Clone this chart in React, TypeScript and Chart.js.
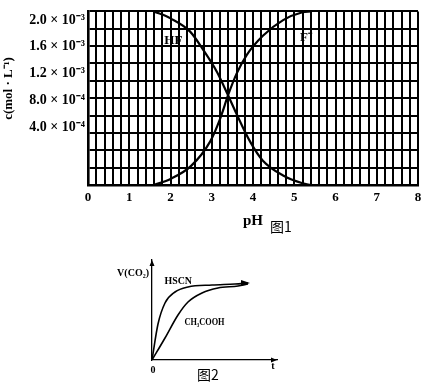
import React, { useEffect, useRef } from 'react';
import { Chart, registerables } from 'chart.js';

Chart.register(...registerables);

// ---------- Figure 1 data ----------
const phMin = 0;
const phMax = 8;
const concMin = 0;
const concMax = 2.0e-3;
const concTickValues = [4.0e-4, 8.0e-4, 1.2e-3, 1.6e-3, 2.0e-3];
const concTickLabels = ['4.0 × 10⁻⁴', '8.0 × 10⁻⁴', '1.2 × 10⁻³', '1.6 × 10⁻³', '2.0 × 10⁻³'];
const hfPH = [1.6, 2.0, 2.47, 2.79, 3.13, 3.37, 3.6, 3.93, 4.24, 4.73, 5.2, 5.4];
const hfConc = [2.0e-3, 1.92e-3, 1.77e-3, 1.56e-3, 1.3e-3, 1.06e-3, 0.82e-3, 0.5e-3, 0.28e-3, 0.11e-3, 0.02e-3, 0];
const fPH = [1.6, 2.0, 2.5, 2.96, 3.2, 3.4, 3.6, 3.85, 4.24, 4.73, 5.2, 5.4];
const fConc = [0, 0.07e-3, 0.22e-3, 0.5e-3, 0.76e-3, 1.04e-3, 1.28e-3, 1.5e-3, 1.72e-3, 1.9e-3, 1.99e-3, 2.0e-3];

// ---------- Figure 2 data ----------
const hscnT = [0, 0.48, 1.04, 1.84, 2.88, 4.8, 6.64, 7.68];
const hscnV = [0, 3.6, 5.7, 6.8, 7.3, 7.5, 7.6, 7.7];
const acT = [0, 1.04, 2.08, 2.88, 4.0, 5.28, 6.88, 7.68];
const acV = [0, 2.2, 4.5, 5.8, 6.7, 7.2, 7.4, 7.6];

const SERIF = '"Liberation Serif", "Times New Roman", serif';
const CJK = '"Noto Sans CJK SC", "Noto Sans", sans-serif';

const fig1Labels = {
  id: 'fig1Labels',
  afterDraw(chart: any) {
    const { ctx, scales } = chart;
    const x = scales.x;
    const y = scales.y;
    ctx.save();
    ctx.fillStyle = '#000';
    ctx.font = `bold 13px ${SERIF}`;
    ctx.textBaseline = 'middle';
    ctx.textAlign = 'left';
    ctx.fillText('HF', x.getPixelForValue(1.85), y.getPixelForValue(1.66e-3));
    ctx.fillText('F⁻', x.getPixelForValue(5.14), y.getPixelForValue(1.7e-3));
    ctx.font = `14px ${CJK}`;
    ctx.textAlign = 'center';
    ctx.fillText('图1', 281, 227);
    ctx.restore();
  },
};

const fig2Decor = {
  id: 'fig2Decor',
  afterDraw(chart: any) {
    const { ctx, scales, chartArea } = chart;
    const x = scales.x;
    const y = scales.y;
    const ox = chartArea.left;
    const oy = chartArea.bottom;
    ctx.save();
    ctx.fillStyle = '#000';
    ctx.strokeStyle = '#000';
    // arrow heads on axes
    ctx.beginPath();
    ctx.moveTo(chartArea.right, oy);
    ctx.lineTo(chartArea.right - 6, oy - 2.5);
    ctx.lineTo(chartArea.right - 6, oy + 2.5);
    ctx.closePath();
    ctx.fill();
    ctx.beginPath();
    ctx.moveTo(ox, chartArea.top);
    ctx.lineTo(ox - 2.5, chartArea.top + 6);
    ctx.lineTo(ox + 2.5, chartArea.top + 6);
    ctx.closePath();
    ctx.fill();
    // arrow at end of curves
    const ex = x.getPixelForValue(hscnT[hscnT.length - 1]);
    const ey = y.getPixelForValue(hscnV[hscnV.length - 1]);
    ctx.beginPath();
    ctx.moveTo(ex + 2, ey);
    ctx.lineTo(ex - 7, ey - 3);
    ctx.lineTo(ex - 7, ey + 3);
    ctx.closePath();
    ctx.fill();
    // labels
    ctx.textBaseline = 'middle';
    ctx.font = `bold 10px ${SERIF}`;
    ctx.textAlign = 'right';
    ctx.fillText('V(CO₂)', ox - 3, y.getPixelForValue(8.7));
    ctx.textAlign = 'center';
    const drawCondensed = (txt: string, px: number, py: number, sx: number) => {
      ctx.save();
      ctx.translate(px, py);
      ctx.scale(sx, 1);
      ctx.fillText(txt, 0, 0);
      ctx.restore();
    };
    ctx.font = `bold 11px ${SERIF}`;
    drawCondensed('HSCN', x.getPixelForValue(2.1), y.getPixelForValue(7.9), 0.9);
    drawCondensed('CH₃COOH', x.getPixelForValue(4.2), y.getPixelForValue(3.8), 0.75);
    ctx.font = `bold 10px ${SERIF}`;
    ctx.fillText('0', ox + 1, oy + 10);
    ctx.fillText('t', chartArea.right - 4, oy + 6);
    ctx.font = `14px ${CJK}`;
    ctx.fillText('图2', 208, 375 - 240);
    ctx.restore();
  },
};

export default function App() {
  const ref1 = useRef<HTMLCanvasElement>(null);
  const ref2 = useRef<HTMLCanvasElement>(null);

  useEffect(() => {
    const c1 = new Chart(ref1.current as HTMLCanvasElement, {
      type: 'line',
      data: {
        datasets: [
          {
            label: 'HF',
            data: hfPH.map((p, i) => ({ x: p, y: hfConc[i] })),
            borderColor: '#000',
            borderWidth: 2.2,
            pointRadius: 0,
            fill: false,
            cubicInterpolationMode: 'monotone',
          },
          {
            label: 'F⁻',
            data: fPH.map((p, i) => ({ x: p, y: fConc[i] })),
            borderColor: '#000',
            borderWidth: 2.2,
            pointRadius: 0,
            fill: false,
            cubicInterpolationMode: 'monotone',
          },
        ],
      },
      options: {
        animation: false,
        responsive: false,
        events: [],
        layout: { padding: { top: 5, right: 4, left: 0, bottom: 0 } },
        plugins: { legend: { display: false }, tooltip: { enabled: false } },
        scales: {
          x: {
            type: 'linear',
            min: phMin,
            max: phMax,
            position: 'bottom',
            ticks: {
              stepSize: 0.2,
              autoSkip: false,
              maxRotation: 0,
              padding: 5,
              color: '#000',
              font: { family: SERIF, weight: 'bold', size: 13 },
              callback: (v: any) => {
                const n = Number(v);
                return Math.abs(n - Math.round(n)) < 1e-6 ? String(Math.round(n)) : '';
              },
            },
            grid: { color: '#000', lineWidth: 2, drawTicks: false },
            border: { display: true, color: '#000', width: 2.6 },
            title: {
              display: true,
              text: 'pH',
              color: '#000',
              font: { family: SERIF, weight: 'bold', size: 15 },
              padding: { top: 0, bottom: 10 },
            },
            afterFit: (s: any) => {
              s.height = 55;
              s.paddingRight = 0;
              s.paddingLeft = 0;
            },
          },
          y: {
            type: 'linear',
            min: concMin,
            max: concMax,
            position: 'left',
            weight: 0,
            ticks: { stepSize: 2e-4, display: false },
            grid: { color: '#000', lineWidth: 2, drawTicks: false },
            border: { display: true, color: '#000', width: 2.6 },
            afterFit: (s: any) => {
              s.width = 0;
            },
          },
          yLab: {
            type: 'linear',
            position: 'left',
            weight: 10,
            min: -4.649e-4,
            max: 2.1297e-3,
            grid: { display: false, drawTicks: false },
            border: { display: false },
            afterBuildTicks: (s: any) => {
              s.ticks = concTickValues.map((v) => ({ value: v }));
            },
            ticks: {
              padding: 3,
              color: '#000',
              font: { family: SERIF, weight: 'bold', size: 14 },
              callback: (v: any) => {
                const idx = concTickValues.findIndex((t) => Math.abs(t - Number(v)) < 1e-9);
                return idx >= 0 ? concTickLabels[idx] : '';
              },
            },
            title: {
              display: true,
              text: '      c(mol · L⁻¹)',
              color: '#000',
              font: { family: SERIF, weight: 'bold', size: 13 },
              padding: { top: 1, bottom: 0 },
            },
            afterFit: (s: any) => {
              s.width = 88;
            },
          },
        },
      },
      plugins: [fig1Labels],
    } as any);

    const c2 = new Chart(ref2.current as HTMLCanvasElement, {
      type: 'line',
      data: {
        datasets: [
          {
            label: 'HSCN',
            data: hscnT.map((t, i) => ({ x: t, y: hscnV[i] })),
            borderColor: '#000',
            borderWidth: 1.6,
            pointRadius: 0,
            fill: false,
            cubicInterpolationMode: 'monotone',
          },
          {
            label: 'CH₃COOH',
            data: acT.map((t, i) => ({ x: t, y: acV[i] })),
            borderColor: '#000',
            borderWidth: 1.6,
            pointRadius: 0,
            fill: false,
            cubicInterpolationMode: 'monotone',
          },
        ],
      },
      options: {
        animation: false,
        responsive: false,
        events: [],
        layout: { padding: { top: 20, right: 145, left: 152, bottom: 27 } },
        plugins: { legend: { display: false }, tooltip: { enabled: false } },
        scales: {
          x: {
            type: 'linear',
            min: 0,
            max: 10,
            ticks: { display: false },
            grid: { display: false, drawTicks: false },
            border: { display: true, color: '#000', width: 1.3 },
            afterFit: (s: any) => {
              s.height = 0;
            },
          },
          y: {
            type: 'linear',
            min: 0,
            max: 10,
            ticks: { display: false },
            grid: { display: false, drawTicks: false },
            border: { display: true, color: '#000', width: 1.3 },
            afterFit: (s: any) => {
              s.width = 0;
            },
          },
        },
      },
      plugins: [fig2Decor],
    } as any);

    return () => {
      c1.destroy();
      c2.destroy();
    };
  }, []);

  return (
    <div style={{ position: 'absolute', left: 0, top: 0, width: 422, height: 387, background: '#fff' }}>
      <canvas ref={ref1} width={422} height={240} style={{ position: 'absolute', left: 0, top: 0, width: 422, height: 240 }} />
      <canvas ref={ref2} width={422} height={147} style={{ position: 'absolute', left: 0, top: 240, width: 422, height: 147 }} />
    </div>
  );
}
